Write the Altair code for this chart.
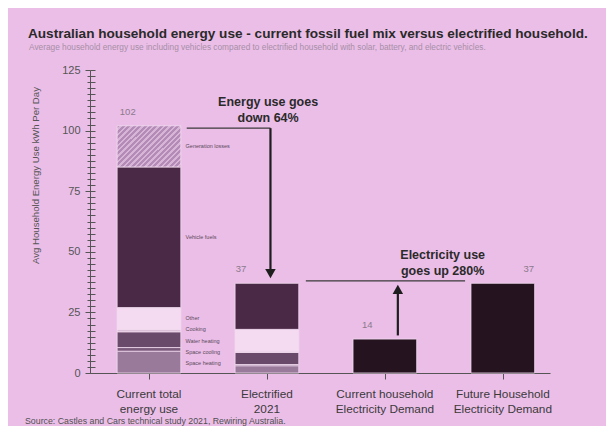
import altair as alt
import pandas as pd

# ---------------- data ----------------
categories = ["Current total energy use", "Electrified 2021",
              "Current household Electricity Demand", "Future Household Electricity Demand"]
category_lines = [["Current total", "energy use"], ["Electrified", "2021"],
                  ["Current household", "Electricity Demand"], ["Future Household", "Electricity Demand"]]
segments = ["Space heating", "Space cooling", "Water heating", "Cooking",
            "Other", "Vehicle fuels", "Generation losses"]
current_total = [9, 1.5, 6.5, 1, 9, 58, 17]
electrified_2021 = [3, 0.5, 5, 0.5, 9, 19, 0]
electricity_demand = [14, 37]          # current household, future household
bar_totals = [102, 37, 14, 37]

down_text = ["Energy use goes", "down 64%"]
up_text = ["Electricity use", "goes up 280%"]
down_from, down_to = 101, 37          # energy use arrow (kWh/day levels)
up_from, up_to = 14, 38               # electricity use arrow

title = "Australian household energy use - current fossil fuel mix versus electrified household."
subtitle = ("Average household energy use including vehicles compared to electrified household "
            "with solar, battery, and electric vehicles.")
source = "Source: Castles and Cars technical study 2021, Rewiring Australia."
y_title = "Avg Household Energy Use kWh Per Day"
y_ticks = [i * 2.5 for i in range(51)]

# ---------------- styling ----------------
BG = "#ebbee8"
seg_colors = {"Space heating": "#9a7a9b", "Space cooling": "#7a5a7b", "Water heating": "#6a4a6b",
              "Cooking": "#dcc0da", "Other": "#f4dbf1", "Vehicle fuels": "#4a2946",
              "Generation losses": "#b68db8", "Electricity": "#251320"}
HALF = 0.27
W, H = 460, 303
AX = "#555555"

# ---------------- build tables ----------------
rows = []
for ci, vals in enumerate([current_total, electrified_2021]):
    acc = 0
    for s, v in zip(segments, vals):
        if v > 0:
            rows.append({"cat": categories[ci], "segment": s, "x0": ci - HALF, "x1": ci + HALF,
                         "y0": acc, "y1": acc + v})
        acc += v
for j, v in enumerate(electricity_demand):
    ci = 2 + j
    rows.append({"cat": categories[ci], "segment": "Electricity", "x0": ci - HALF, "x1": ci + HALF,
                 "y0": 0, "y1": v})
df = pd.DataFrame(rows)
solid = df[df.segment != "Generation losses"]
hatch = df[df.segment == "Generation losses"]

xscale = alt.Scale(domain=[-0.5, 3.4], nice=False, zero=False)
yscale = alt.Scale(domain=[0, 125], nice=False)

is_major = "datum.value % 25 == 0"
yaxis = alt.Axis(
    values=y_ticks,
    labelExpr=is_major + " ? datum.label : ''",
    labelOverlap=False,
    tickSize={"condition": {"test": is_major, "value": 5}, "value": 3},
    labelFontSize=11, labelColor=AX, labelPadding=5, labelFont="Liberation Sans",
    domainColor=AX, tickColor=AX, grid=False,
    title=y_title, titleFontSize=9.6, titleFontWeight="normal",
    titleColor=AX, titleFont="Liberation Sans",
    titleX=-55, titleY=105, titleAngle=270, titleAlign="center", titleBaseline="middle",
)
xaxis = alt.Axis(values=[0, 1, 2, 3], labels=False, tickSize=6, domainColor=AX,
                 tickColor=AX, title=None, grid=False)


def X(field):
    return alt.X(field, scale=xscale, axis=xaxis)


def Y(field):
    return alt.Y(field, scale=yscale, axis=yaxis)


bars = alt.Chart(solid).mark_bar(stroke="#f3dcf0", strokeWidth=0.8).encode(
    x=X("x0:Q"), x2="x1:Q", y=Y("y0:Q"), y2="y1:Q",
    color=alt.Color("segment:N", scale=alt.Scale(domain=list(seg_colors.keys()),
                                                 range=list(seg_colors.values())), legend=None),
)

# striped fill for generation losses
stops = []
n = 20
for k in range(n):
    a, b = k / n, (k + 0.55) / n
    c = (k + 1) / n
    stops += [alt.GradientStop(color="#b48ab7", offset=a), alt.GradientStop(color="#b48ab7", offset=b),
              alt.GradientStop(color="#d6b5d7", offset=b), alt.GradientStop(color="#d6b5d7", offset=c)]
hatch_bar = alt.Chart(hatch).mark_bar(
    color=alt.Gradient(gradient="linear", stops=stops, x1=0, y1=0, x2=1.2, y2=0.78),
    stroke="#f3dcf0", strokeWidth=0.8,
).encode(x=X("x0:Q"), x2="x1:Q", y=Y("y0:Q"), y2="y1:Q")

# segment labels to the right of the first bar
seg_lab = []
acc = 0
for s, v in zip(segments, current_total):
    seg_lab.append({"segment": s, "mid": acc + v / 2})
    acc += v
small_i = 0
for r in seg_lab:
    if r["segment"] in ("Vehicle fuels", "Generation losses"):
        r["ly"] = r["mid"]
    else:
        r["ly"] = 4 + small_i * 4.65
        small_i += 1
    r["lx"] = HALF + 0.04
seg_df = pd.DataFrame(seg_lab)
seg_text = alt.Chart(seg_df).mark_text(align="left", baseline="middle", fontSize=5.5,
                                       color="#5a4a5a", font="Liberation Sans").encode(
    x=X("lx:Q"), y=Y("ly:Q"), text="segment:N")

# value labels on top of bars
val_dx = [-0.18, -0.22, -0.15, 0.22]
val_df = pd.DataFrame({"x": [i + d for i, d in enumerate(val_dx)], "y": bar_totals,
                       "t": [str(v) for v in bar_totals]})
val_text = alt.Chart(val_df).mark_text(align="center", baseline="middle", dy=-14, fontSize=9.5,
                                       color="#8a7a8a", font="Liberation Sans").encode(
    x=X("x:Q"), y=Y("y:Q"), text="t:N")

# category labels under axis
cat_df = pd.DataFrame({"x": [0, 1, 2, 3], "t": category_lines})
cat_text = alt.Chart(cat_df).mark_text(align="center", baseline="top", fontSize=11.8, lineHeight=15,
                                       color="#3a3a3a", font="Liberation Sans").encode(
    x=X("x:Q"), y=alt.value(H + 16), text="t")

# annotation lines & arrows
hl_df = pd.DataFrame({"x": [HALF + 0.05, 1.33], "x2": [1.03, 2.68], "y": [down_from, up_to]})
hlines = alt.Chart(hl_df).mark_rule(color="#3a3a3a", strokeWidth=1.3).encode(
    x=X("x:Q"), x2="x2:Q", y=Y("y:Q"))

shaft_df = pd.DataFrame({"x": [1.03, 2.11], "y": [down_from, up_from + 1.5],
                         "y2": [down_to + 4, up_to - 3.5]})
shafts = alt.Chart(shaft_df).mark_rule(color="#1e1e1e", strokeWidth=2.2).encode(
    x=X("x:Q"), y=Y("y:Q"), y2="y2:Q")

head_down = alt.Chart(pd.DataFrame({"x": [1.03], "y": [down_to + 4]})).mark_point(
    shape="triangle-down", filled=True, size=110, color="#1e1e1e", opacity=1).encode(
    x=X("x:Q"), y=Y("y:Q"))
head_up = alt.Chart(pd.DataFrame({"x": [2.11], "y": [up_to - 3.5]})).mark_point(
    shape="triangle-up", filled=True, size=110, color="#1e1e1e", opacity=1).encode(
    x=X("x:Q"), y=Y("y:Q"))

ann_df = pd.DataFrame({"x": [1.01, 2.49], "y": [111.8, 48.7], "t": [down_text, up_text]})
ann_text = alt.Chart(ann_df).mark_text(align="center", baseline="middle", fontSize=12.5,
                                       fontWeight="bold", lineHeight=16, color="#2a2a2a",
                                       font="Liberation Sans").encode(
    x=X("x:Q"), y=Y("y:Q"), text="t")

# titles and source as text
title_t = alt.Chart(pd.DataFrame({"t": [title]})).mark_text(
    align="left", baseline="alphabetic", fontSize=13.6, fontWeight="bold", color="#2a2a2a",
    font="Liberation Sans").encode(x=alt.value(-62), y=alt.value(-32), text="t:N")
sub_t = alt.Chart(pd.DataFrame({"t": [subtitle]})).mark_text(
    align="left", baseline="middle", fontSize=8.3, color="#a68ea6",
    font="Liberation Sans").encode(x=alt.value(-61), y=alt.value(-22), text="t:N")
src_t = alt.Chart(pd.DataFrame({"t": [source]})).mark_text(
    align="left", baseline="middle", fontSize=8.8, color="#505050",
    font="Liberation Sans").encode(x=alt.value(-65), y=alt.value(351), text="t:N")

main = alt.layer(bars, hatch_bar, seg_text, val_text, cat_text, hlines, shafts, head_down, head_up,
                 ann_text, title_t, sub_t, src_t)

# second set of tick marks on the inner side of the y axis (cross-shaped ticks)
inner_ticks = alt.Chart(pd.DataFrame({"y": [0]})).mark_point(opacity=0).encode(
    y=alt.Y("y:Q", scale=alt.Scale(domain=[0, 125], nice=False),
            axis=alt.Axis(values=y_ticks, orient="left", offset=-5, labels=False, domain=False,
                          tickSize=5, tickColor=AX, title=None, grid=False))
)

chart = alt.layer(main, inner_ticks).resolve_scale(y="independent").properties(
    width=W, height=H, autosize="none",
    padding={"left": 82, "top": 62, "right": 56, "bottom": 53},
    background=BG,
).configure_view(strokeWidth=0)

chart.save("out.html", embed_options={"renderer": "svg", "actions": False})
